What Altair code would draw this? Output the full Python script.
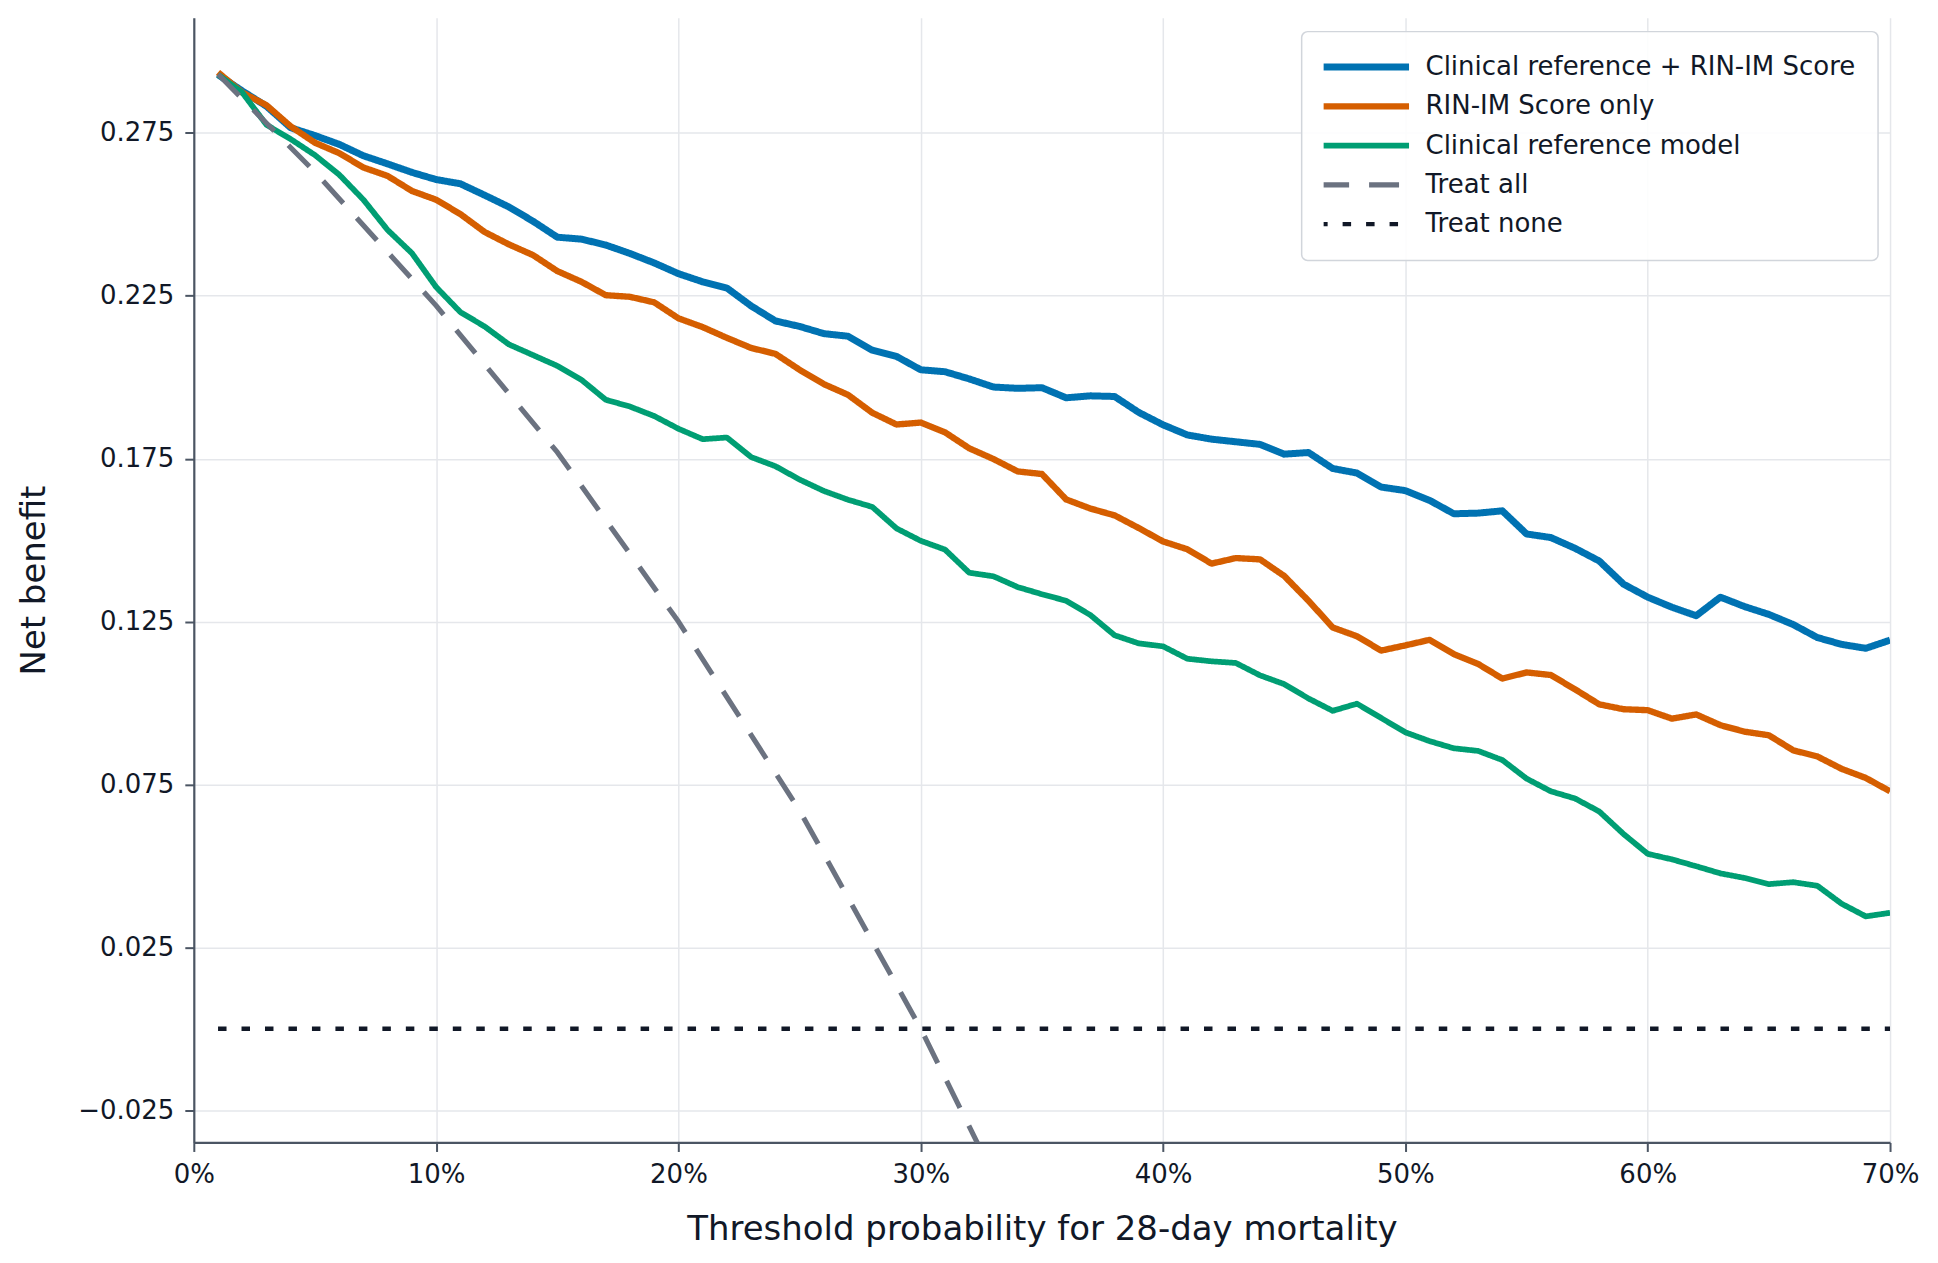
import altair as alt
import pandas as pd

# ---------------- data ----------------
series_names = [
    "Clinical reference + RIN-IM Score",
    "RIN-IM Score only",
    "Clinical reference model",
    "Treat all",
    "Treat none",
]

threshold_pct = [
    1, 2, 3, 4, 5, 6, 7, 8, 9, 10,
    11, 12, 13, 14, 15, 16, 17, 18, 19, 20,
    21, 22, 23, 24, 25, 26, 27, 28, 29, 30,
    31, 32, 33, 34, 35, 36, 37, 38, 39, 40,
    41, 42, 43, 44, 45, 46, 47, 48, 49, 50,
    51, 52, 53, 54, 55, 56, 57, 58, 59, 60,
    61, 62, 63, 64, 65, 66, 67, 68, 69, 70,
]

nb_combined = [
    0.2929, 0.2879, 0.2832, 0.2766, 0.2742, 0.2715, 0.2680, 0.2655, 0.2629, 0.2607,
    0.2594, 0.2559, 0.2523, 0.2479, 0.2430, 0.2424, 0.2406, 0.2380, 0.2351, 0.2318,
    0.2293, 0.2274, 0.2219, 0.2173, 0.2156, 0.2134, 0.2126, 0.2083, 0.2064, 0.2023,
    0.2017, 0.1995, 0.1970, 0.1966, 0.1968, 0.1937, 0.1943, 0.1941, 0.1892, 0.1854,
    0.1823, 0.1810, 0.1802, 0.1794, 0.1764, 0.1769, 0.1720, 0.1706, 0.1663, 0.1652,
    0.1622, 0.1581, 0.1583, 0.1590, 0.1519, 0.1508, 0.1475, 0.1436, 0.1365, 0.1325,
    0.1294, 0.1268, 0.1325, 0.1296, 0.1272, 0.1241, 0.1201, 0.1180, 0.1168, 0.1193,
]

nb_rinim = [
    0.2936, 0.2874, 0.2835, 0.2770, 0.2720, 0.2688, 0.2644, 0.2618, 0.2572, 0.2545,
    0.2501, 0.2446, 0.2408, 0.2375, 0.2326, 0.2293, 0.2252, 0.2247, 0.2230, 0.2181,
    0.2154, 0.2121, 0.2090, 0.2072, 0.2023, 0.1979, 0.1946, 0.1891, 0.1855, 0.1861,
    0.1831, 0.1782, 0.1749, 0.1711, 0.1703, 0.1625, 0.1597, 0.1576, 0.1537, 0.1496,
    0.1472, 0.1428, 0.1445, 0.1441, 0.1390, 0.1314, 0.1232, 0.1205, 0.1161, 0.1177,
    0.1194, 0.1150, 0.1120, 0.1075, 0.1094, 0.1086, 0.1042, 0.0996, 0.0981, 0.0978,
    0.0952, 0.0965, 0.0932, 0.0912, 0.0901, 0.0855, 0.0836, 0.0798, 0.0770, 0.0729,
]

nb_clinical = [
    0.2929, 0.2874, 0.2775, 0.2731, 0.2682, 0.2622, 0.2545, 0.2452, 0.2381, 0.2277,
    0.2200, 0.2156, 0.2101, 0.2068, 0.2035, 0.1992, 0.1931, 0.1910, 0.1881, 0.1842,
    0.1810, 0.1815, 0.1755, 0.1727, 0.1686, 0.1651, 0.1624, 0.1602, 0.1536, 0.1498,
    0.1471, 0.1400, 0.1389, 0.1356, 0.1334, 0.1314, 0.1270, 0.1208, 0.1183, 0.1174,
    0.1136, 0.1128, 0.1123, 0.1085, 0.1058, 0.1014, 0.0976, 0.0998, 0.0954, 0.0910,
    0.0883, 0.0861, 0.0853, 0.0825, 0.0768, 0.0729, 0.0707, 0.0667, 0.0598, 0.0537,
    0.0520, 0.0499, 0.0477, 0.0463, 0.0444, 0.0450, 0.0439, 0.0384, 0.0345, 0.0356,
]

treat_all_pct = [1, 5, 10, 15, 20, 25, 30, 33]
nb_treat_all = [0.293, 0.263, 0.222, 0.177, 0.125, 0.067, 0.000, -0.045]

treat_none_pct = [1, 70]
nb_treat_none = [0.0, 0.0]

x_tick_values = [0.0, 0.1, 0.2, 0.3, 0.4, 0.5, 0.6, 0.7]
y_tick_values = [-0.025, 0.025, 0.075, 0.125, 0.175, 0.225, 0.275]

# ---------------- styles ----------------
series_colors = ["#0072B2", "#D55E00", "#009E73", "#6B7280", "#111827"]
series_dashes = [[1, 0], [1, 0], [1, 0], [30, 20], [8.5, 15]]
width_range = [7, 4.5]

FONT = "DejaVu Sans"


def frame(name, pct, values):
    return pd.DataFrame({
        "threshold": [p / 100 for p in pct],
        "net_benefit": values,
        "series": [name] * len(values),
    })


frames = [
    frame(series_names[0], threshold_pct, nb_combined),
    frame(series_names[1], threshold_pct, nb_rinim),
    frame(series_names[2], threshold_pct, nb_clinical),
    frame(series_names[3], treat_all_pct, nb_treat_all),
    frame(series_names[4], treat_none_pct, nb_treat_none),
]

x_axis = alt.Axis(
    values=x_tick_values,
    format=".0%",
    labelPadding=10,
    labelFlush=False,
    tickSize=9,
    grid=True,
    titleX=849,
    titleY=87,
    titleAlign="center",
    titleBaseline="middle",
)
y_axis = alt.Axis(
    values=y_tick_values,
    format=".3f",
    labelPadding=11,
    labelFlush=False,
    tickSize=9,
    grid=True,
    titleX=-159,
    titleY=563,
    titleAngle=270,
    titleAlign="center",
    titleBaseline="middle",
)

layers = []
for df in frames:
    layers.append(
        alt.Chart(df)
        .mark_line(clip=True, strokeJoin="round")
        .encode(
            x=alt.X(
                "threshold:Q",
                scale=alt.Scale(domain=[0, 0.7], nice=False, zero=False),
                axis=x_axis,
                title="Threshold probability for 28-day mortality",
            ),
            y=alt.Y(
                "net_benefit:Q",
                scale=alt.Scale(domain=[-0.0349, 0.3104], nice=False, zero=False),
                axis=y_axis,
                title="Net benefit",
            ),
            color=alt.Color(
                "series:N",
                scale=alt.Scale(domain=series_names, range=series_colors),
                title=None,
            ),
            strokeDash=alt.StrokeDash(
                "series:N",
                scale=alt.Scale(domain=series_names, range=series_dashes),
                title=None,
            ),
            strokeWidth=alt.StrokeWidth(
                "series:N",
                scale=alt.Scale(domain=series_names, range=width_range, padding=0),
                title=None,
            ),
        )
    )

chart = (
    alt.layer(*layers)
    .properties(
        width=1698,
        height=1126,
        autosize=alt.AutoSizeParams(type="none"),
        padding={"left": 186, "top": 9, "right": 40, "bottom": 112},
        background="white",
    )
    .configure(font=FONT)
    .configure_view(strokeWidth=0)
    .configure_axis(
        domainColor="#4b5563",
        domainWidth=2.2,
        tickColor="#4b5563",
        tickWidth=2,
        labelFont=FONT,
        labelFontSize=26,
        labelColor="#111827",
        titleFont=FONT,
        titleFontSize=34,
        titleFontWeight="normal",
        titleColor="#111827",
        gridColor="#e5e7eb",
        gridWidth=1.5,
    )
    .configure_legend(
        orient="none",
        legendX=1109,
        legendY=14,
        padding=22,
        labelFont=FONT,
        labelFontSize=26,
        labelColor="#111827",
        labelLimit=700,
        labelOffset=13,
        symbolSize=8100,
        symbolOffset=-8,
        symbolType="stroke",
        clipHeight=27,
        rowPadding=12.3,
        strokeColor="#d1d5db",
        fillColor="rgba(255,255,255,0.88)",
        cornerRadius=6,
        strokeWidth=1.5,
    )
)

chart.save("out.html", embed_options={"renderer": "svg", "actions": False})
